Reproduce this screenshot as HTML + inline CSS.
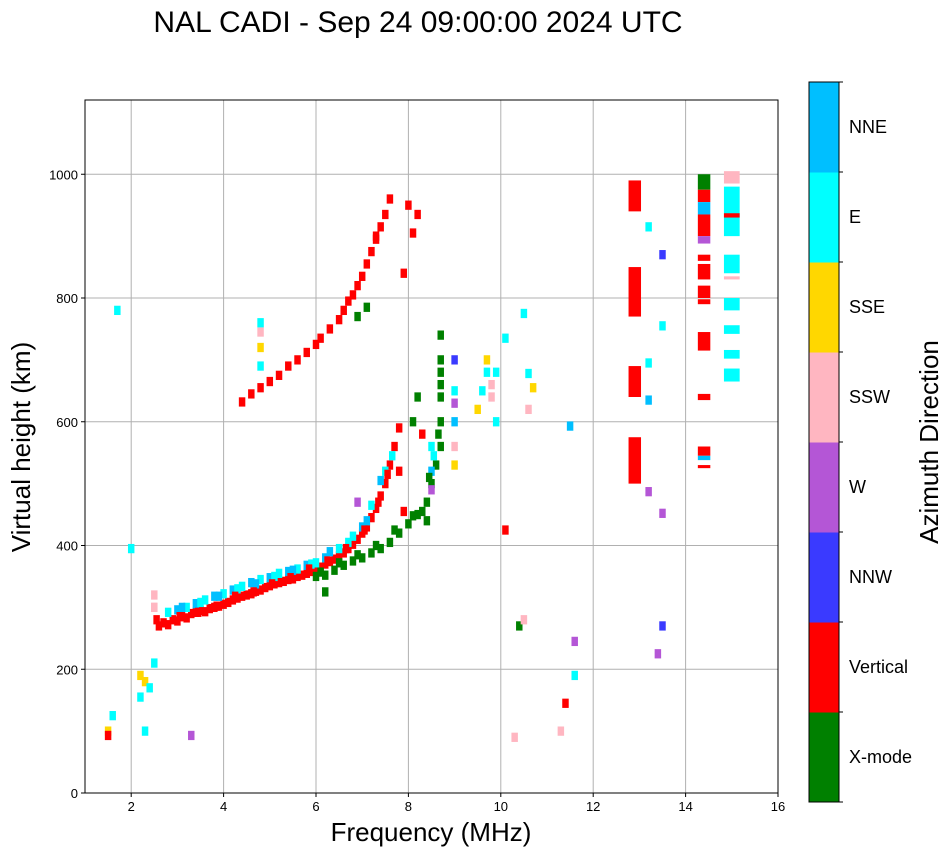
<!DOCTYPE html>
<html><head><meta charset="utf-8"><style>
body{margin:0;background:#fff;}
svg{display:block;font-family:"Liberation Sans","DejaVu Sans",sans-serif;}
</style></head><body>
<svg id="fig" width="951" height="856">
<text x="418" y="32" font-size="30" text-anchor="middle">NAL CADI - Sep 24 09:00:00 2024 UTC</text>
<g id="grid"></g>
<g id="marks"></g>
<rect x="85" y="100" width="693" height="693" fill="none" stroke="#000" stroke-width="1"/>
<g id="axes"></g>
<text x="431" y="841" font-size="26" text-anchor="middle">Frequency (MHz)</text>
<text transform="translate(30,447) rotate(-90)" font-size="26" text-anchor="middle">Virtual height (km)</text>
<g id="cbar"></g>
<text transform="translate(938,442) rotate(-90)" font-size="26" text-anchor="middle">Azimuth Direction</text>
</svg>
<script>
const xTicks=[2,4,6,8,10,12,14,16];
const yTicks=[0,200,400,600,800,1000];
const dirLabels=["X-mode","Vertical","NNW","W","SSW","SSE","E","NNE"];
const dirColors=["#008000","#ff0000","#3a3aff","#b456d6","#ffb6c1","#ffd700","#00ffff","#00bfff"];
// trace cells: frequency (MHz), height (km), direction index
const tf=[2.5,2.5,2.55,2.6,2.7,2.8,2.9,3.0,3.1,3.2,3.3,3.4,3.5,3.6,3.7,3.8,3.9,4.0,4.1,4.2,4.3,4.4,4.5,4.6,4.7,4.8,4.9,5.0,5.1,5.2,5.3,5.4,5.5,5.6,5.7,5.8,5.9,6.0,6.1,6.2,6.3,6.4,6.5,6.6,6.7,6.8,6.9,7.0,7.1,7.2,7.3,7.4,7.5,7.6,7.7,7.8,
2.8,3.0,3.2,3.4,3.6,3.8,4.0,4.2,4.4,4.6,4.8,5.0,5.2,5.4,5.6,5.8,6.0,6.2,6.5,6.8,7.0,7.2,7.4,
3.1,3.5,3.9,4.3,4.7,5.1,5.5,5.9,6.3,6.7,7.1,7.5,
6.0,6.2,6.4,6.6,6.8,7.0,7.2,7.4,7.6,7.8,8.0,8.2,8.4,8.5,8.6,8.7,8.7,8.7,8.7,8.7,8.7,8.7,8.3,8.4,
4.4,4.6,4.8,5.0,5.2,5.4,5.6,5.8,6.0,6.1,6.3,6.5,6.6,6.7,6.8,6.9,7.0,7.1,7.2,7.3,7.4,7.5,7.6,6.9,7.1,7.3,
4.8,4.8,4.8,4.8,
9.0,9.0,9.0,9.0,9.0,9.0,9.5,9.6,9.7,9.8,9.9,9.9,10.1,10.5,10.6,10.7,9.8,9.7,8.5,8.5,8.5,8.3,8.1,8.2,7.8,7.9,
1.5,1.5,1.6,1.7,2.0,2.2,2.3,2.3,2.4,2.5,2.2,2.5,3.3,10.1,10.4,10.5,11.4,11.6,11.6,10.3,11.3,
13.2,13.5,13.5,13.5,13.2,13.2,13.4,7.9,8.0,8.1,8.2,6.2,6.9,10.6,11.5,13.2,13.5,
3.05,3.45,3.85,4.25,4.65,5.05,5.45,5.85,6.25,6.65,7.05,7.35,7.55,7.65,
6.1,6.5,6.9,7.3,7.7,8.1,8.45,8.55,8.65];
const th=[300,320,280,270,275,272,280,278,285,283,290,292,295,293,298,300,302,305,308,312,315,318,320,322,326,328,332,335,338,340,342,345,346,350,352,355,358,362,365,370,374,378,383,388,395,402,410,420,430,445,460,480,500,530,560,590,
292,296,300,306,312,318,322,328,334,340,345,348,355,358,362,368,372,380,395,415,430,465,505,
300,308,318,330,338,350,360,370,390,405,440,520,
350,352,360,368,375,380,388,395,405,420,435,450,470,500,530,560,600,640,660,680,700,740,455,440,
632,645,655,665,675,690,700,712,725,735,750,765,780,795,805,820,835,855,875,895,915,935,960,770,785,900,
690,720,745,760,
650,630,700,560,530,600,620,650,680,640,600,680,735,775,620,655,660,700,490,520,560,580,600,640,520,455,
100,93,125,780,395,190,100,180,170,300,155,210,93,425,270,280,145,190,245,90,100,
915,870,755,270,695,635,225,840,950,905,935,325,470,678,593,487,452,
285,292,302,318,325,338,348,362,375,395,425,470,515,545,
357,372,385,400,425,448,510,545,580];
const tc=[4,4,1,1,1,1,1,1,1,1,1,1,1,1,1,1,1,1,1,1,1,1,1,1,1,1,1,1,1,1,1,1,1,1,1,1,1,1,1,1,1,1,1,1,1,1,1,1,1,1,1,1,1,1,1,1,
6,7,6,7,6,7,6,7,6,7,6,7,6,7,6,7,6,7,6,6,7,6,7,
7,6,7,6,7,6,7,6,7,6,7,6,
0,0,0,0,0,0,0,0,0,0,0,0,0,0,0,0,0,0,0,0,0,0,0,0,
1,1,1,1,1,1,1,1,1,1,1,1,1,1,1,1,1,1,1,1,1,1,1,0,0,1,
6,5,4,6,
6,3,2,4,5,7,5,6,6,4,6,6,6,6,4,5,4,5,3,7,6,1,0,0,1,1,
5,1,6,6,6,5,6,5,6,4,6,6,3,1,0,4,1,6,3,4,4,
6,2,6,2,6,7,3,1,1,1,1,0,3,6,7,3,3,
1,1,1,1,1,1,1,1,1,1,1,1,1,6,
0,0,0,0,0,0,0,6,0];
// column blocks at fixed sounding frequencies: freq, bottom, top (km), direction
const bf=[12.9,12.9,12.9,12.9,14.4,14.4,14.4,14.4,14.4,14.4,14.4,14.4,14.4,14.4,14.4,14.4,14.4,14.4,15.0,15.0,15.0,15.0,15.0,15.0,15.0,15.0,15.0];
const bLo=[940,770,640,500,975,955,935,900,888,860,830,800,790,715,635,545,538,525,900,985,930,840,780,742,702,665,830];
const bHi=[990,850,690,575,1000,975,955,935,900,870,855,820,798,745,645,560,545,530,980,1005,937,870,800,756,716,686,835];
const bc=[1,1,1,1,0,1,7,1,3,1,1,1,1,1,1,1,7,1,6,4,1,6,6,6,6,6,4];

const X0=85,X1=778,Y0=793,Y1=100,FMIN=1,FMAX=16,HMIN=0,HMAX=1120;
const sx=f=>X0+(f-FMIN)/(FMAX-FMIN)*(X1-X0);
const sy=h=>Y0-(h-HMIN)/(HMAX-HMIN)*(Y0-Y1);
const NS="http://www.w3.org/2000/svg";
function mk(tag,attrs,parent){const e=document.createElementNS(NS,tag);for(const k in attrs)e.setAttribute(k,attrs[k]);parent.appendChild(e);return e;}
const grid=document.getElementById('grid'),axes=document.getElementById('axes'),marks=document.getElementById('marks'),cbar=document.getElementById('cbar');
xTicks.forEach(t=>{const x=sx(t);
 const l=mk('line',{x1:x,x2:x,y1:Y1,y2:Y0,stroke:'#b0b0b0','stroke-width':1},grid);
 
 
 mk('line',{x1:x,x2:x,y1:Y0,y2:Y0+4,stroke:'#000'},axes);
 const tx=mk('text',{x:x,y:Y0+18,'font-size':13,'text-anchor':'middle'},axes);tx.textContent=t;
 
 
});
yTicks.forEach(t=>{const y=sy(t);
 const l=mk('line',{x1:X0,x2:X1,y1:y,y2:y,stroke:'#b0b0b0','stroke-width':1},grid);
 
 
 mk('line',{x1:X0-4,x2:X0,y1:y,y2:y,stroke:'#000'},axes);
 const tx=mk('text',{x:X0-7,y:y+5,'font-size':13,'text-anchor':'end'},axes);tx.textContent=t;
 
 
});
const cw=sx(1.14)-sx(1),chh=sy(0)-sy(15);
for(let i=0;i<tf.length;i++){
 const r=mk('rect',{x:sx(tf[i])-cw/2,y:sy(th[i])-chh/2,width:cw,height:chh,fill:dirColors[tc[i]]},marks);
 
 
}
for(let i=0;i<bf.length;i++){
 const w=bf[i]>14.8?sx(1.34)-sx(1):sx(1.27)-sx(1);
 const r=mk('rect',{x:sx(bf[i])-w/2,y:sy(bHi[i]),width:w,height:sy(bLo[i])-sy(bHi[i]),fill:dirColors[bc[i]]},marks);
 
 
}
const CX=809,CW=30,CT=82,CB=802,seg=(CB-CT)/dirLabels.length;
dirLabels.forEach((lab,i)=>{
 const y=CB-(i+1)*seg;
 const r=mk('rect',{x:CX,y:y,width:CW,height:seg+0.5,fill:dirColors[i]},cbar);
 
 
 mk('line',{x1:CX+CW,x2:CX+CW+4,y1:y,y2:y,stroke:'#000'},cbar);
 const t=mk('text',{x:CX+CW+10,y:y+seg/2+6,'font-size':18},cbar);t.textContent=lab;
 
 
});
mk('line',{x1:CX+CW,x2:CX+CW+4,y1:CB,y2:CB,stroke:'#000'},cbar);
mk('rect',{x:CX,y:CT,width:CW,height:CB-CT,fill:'none',stroke:'#000'},cbar);
</script>
</body></html>
